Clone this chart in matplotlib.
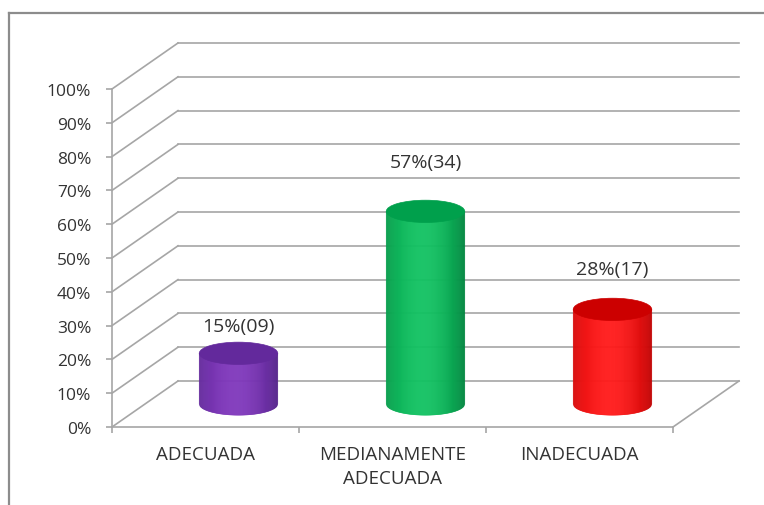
import numpy as np
import matplotlib
matplotlib.use('Agg')
import matplotlib.pyplot as plt
from matplotlib.patches import Ellipse
from matplotlib.lines import Line2D
from matplotlib.transforms import ScaledTranslation, IdentityTransform

plt.rcParams['font.family'] = ['Open Sans', 'DejaVu Sans']

# data
categories = ['ADECUADA', 'MEDIANAMENTE\nADECUADA', 'INADECUADA']
percentages = [15, 57, 28]
counts = [9, 34, 17]
yticks = list(range(0, 101, 10))

# styling
label_gap = [8.0, 14.5, 12.0]      # space between cylinder top and its data label (in %)
body_dark = ['#4c2180', '#007a3a', '#b40000']
body_light = ['#8038bc', '#12c262', '#ff1a1a']
cap_colors = ['#63299c', '#00a04c', '#cc0000']
grid_col = '#a6a6a6'
text_col = '#333333'

W, H = 764, 506
fig = plt.figure(figsize=(W / 100, H / 100), dpi=100)
ax = fig.add_axes([112 / W, 78 / H, 561 / W, 338 / H])
ax.set_xlim(0, 3)
ax.set_ylim(0, 100)

# depth offsets (back wall and middle of the floor)
back = ax.transData + ScaledTranslation(0.66, 0.46, fig.dpi_scale_trans)
mid = ax.transData + ScaledTranslation(0.33, 0.23, fig.dpi_scale_trans)

for s in ['top', 'right']:
    ax.spines[s].set_visible(False)
for s in ['left', 'bottom']:
    ax.spines[s].set_color(grid_col)
    ax.spines[s].set_linewidth(1.2)
ax.set_facecolor('none')

ax.set_yticks(yticks)
ax.set_yticklabels([f'{t}%' for t in yticks])
ax.set_xticks([0, 1, 2, 3])
ax.set_xticklabels([])
ax.set_xticks([0.5, 1.5, 2.5], minor=True)
ax.set_xticklabels(categories, minor=True)
ax.tick_params(axis='y', length=4, width=1.2, color=grid_col, labelsize=12.5,
               labelcolor=text_col, pad=11)
ax.tick_params(axis='x', which='major', length=4, width=1.2, color=grid_col)
ax.tick_params(axis='x', which='minor', length=0, labelsize=13.5,
               labelcolor=text_col, pad=13)
for lab in ax.get_xticklabels(minor=True):
    lab.set_linespacing(1.45)

# side wall diagonals and back wall gridlines
for t in yticks:
    p0 = ax.transData.transform((0, t))
    p1 = back.transform((0, t))
    ax.add_line(Line2D([p0[0], p1[0]], [p0[1], p1[1]], transform=IdentityTransform(),
                       color=grid_col, lw=1.2, zorder=1, clip_on=False))
    ax.plot([0, 3], [t, t], transform=back, color=grid_col, lw=1.2, zorder=1, clip_on=False)
# right edge of the floor
p0 = ax.transData.transform((3, 0))
p1 = back.transform((3, 0))
ax.add_line(Line2D([p0[0], p1[0]], [p0[1], p1[1]], transform=IdentityTransform(),
                   color=grid_col, lw=1.2, zorder=1, clip_on=False))


def shade(dark, light, t):
    d = np.array(matplotlib.colors.to_rgb(dark))
    l = np.array(matplotlib.colors.to_rgb(light))
    w = 1 - ((t - 0.45) / 0.58) ** 2
    w = max(w, 0) ** 0.8
    return tuple(d + (l - d) * w)


a, b = 0.21, 3.3   # half width (categories) and half height (%) of ellipse
n = 80
us = np.linspace(-a, a, n + 1)
for i, v in enumerate(percentages):
    xc = i + 0.5
    for k in range(n):
        u0, u1 = us[k], us[k + 1]
        t = (0.5 * (u0 + u1) + a) / (2 * a)
        col = shade(body_dark[i], body_light[i], t)
        y0 = -b * np.sqrt(max(0, 1 - (u0 / a) ** 2))
        y1 = -b * np.sqrt(max(0, 1 - (u1 / a) ** 2))
        ax.fill([xc + u0, xc + u1, xc + u1, xc + u0], [y0, y1, v, v],
                color=col, ec=col, lw=0.4, transform=mid, zorder=3, clip_on=False)
    ax.add_patch(Ellipse((xc, v), 2 * a, 2 * b, fc=cap_colors[i], ec=cap_colors[i],
                         lw=0.5, transform=mid, zorder=4, clip_on=False))
    ax.text(xc, v + label_gap[i], f'{v}%({counts[i]:02d})', transform=mid,
            ha='center', va='center', fontsize=14, color=text_col, zorder=5)

# outer chart frame (only top and left visible)
fig.add_artist(Line2D([9 / W, 1], [1 - 14 / H, 1 - 14 / H], transform=fig.transFigure,
                      color='#8c8c8c', lw=1.6))
fig.add_artist(Line2D([9 / W, 9 / W], [0, 1 - 14 / H], transform=fig.transFigure,
                      color='#8c8c8c', lw=1.6))

fig.savefig('out.png', dpi=100, facecolor='white')
